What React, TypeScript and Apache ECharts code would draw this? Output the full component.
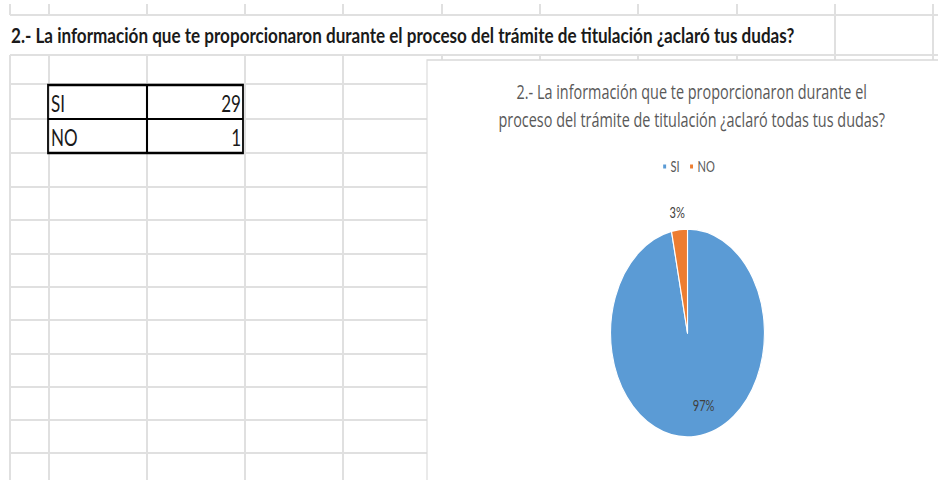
import React, { useEffect, useRef } from 'react';
import * as echarts from 'echarts';

// ---- data ----
const categories = ['SI', 'NO'];
const counts = [29, 1];
const sliceColors = ['#5B9BD5', '#ED7D31'];
const sheetTitle =
  '2.- La información que te proporcionaron durante el proceso del trámite de titulación ¿aclaró tus dudas?';
const chartTitleLines = [
  '2.- La información que te proporcionaron durante el',
  'proceso del trámite de titulación ¿aclaró todas tus dudas?',
];

// spreadsheet grid (screen px)
const colLines = [10, 49, 147, 245, 343, 442, 540, 638, 737, 835, 933];
const rowLines = [15, 55, 84, 119, 153, 187, 220, 254, 287, 320, 354, 387, 420, 453];

// the screenshot is horizontally condensed; draw wide, then squeeze
const SX = 0.74;
const W = 938;
const H = 480;
const WW = Math.round(W / SX);
const X = (x: number) => x / SX;

const FONT = 'Lato';

function buildGraphic() {
  const els: any[] = [];
  els.push({ type: 'rect', z: -20, shape: { x: 0, y: 0, width: WW, height: H }, style: { fill: '#fff' } });
  const gridStyle = { stroke: '#e0e0e0', lineWidth: 2 };
  rowLines.forEach((y) => {
    els.push({ type: 'line', z: -10, shape: { x1: X(10), y1: y, x2: WW, y2: y }, style: gridStyle });
  });
  colLines.forEach((x) => {
    if (x < 810) {
      els.push({ type: 'line', z: -10, shape: { x1: X(x), y1: 4, x2: X(x), y2: 15 }, style: { ...gridStyle, lineWidth: 2.7 } });
      els.push({ type: 'line', z: -10, shape: { x1: X(x), y1: 55, x2: X(x), y2: H }, style: { ...gridStyle, lineWidth: 2.7 } });
    } else {
      els.push({ type: 'line', z: -10, shape: { x1: X(x), y1: 4, x2: X(x), y2: H }, style: { ...gridStyle, lineWidth: 2.7 } });
    }
  });
  // sheet title
  els.push({
    type: 'text', z: -5, x: X(11), y: 35, scaleX: 1.1,
    style: { text: sheetTitle, fontFamily: FONT, fontWeight: 'bold', fontSize: 21, fill: '#1a1a1a', verticalAlign: 'middle', align: 'left' },
  });
  // data table
  const tx0 = 48, tx1 = 147, tx2 = 243, ty0 = 85, rowH = 34;
  categories.forEach((c, i) => {
    const yc = ty0 + rowH * i + rowH / 2 + 1;
    els.push({ type: 'text', z: -4, x: X(51), y: yc, style: { text: c, fontFamily: FONT, fontSize: 23, fill: '#1a1a1a', align: 'left', verticalAlign: 'middle' } });
    els.push({ type: 'text', z: -4, x: X(241), y: yc, style: { text: String(counts[i]), fontFamily: FONT, fontSize: 23, fill: '#1a1a1a', align: 'right', verticalAlign: 'middle' } });
    if (i > 0) {
      els.push({ type: 'line', z: -3, shape: { x1: X(tx0), y1: ty0 + rowH * i, x2: X(tx2), y2: ty0 + rowH * i }, style: { stroke: '#000', lineWidth: 2.2 } });
    }
  });
  const tBottom = ty0 + rowH * categories.length;
  els.push({ type: 'line', z: -3, shape: { x1: X(tx1), y1: ty0, x2: X(tx1), y2: tBottom }, style: { stroke: '#000', lineWidth: 2.8 } });
  els.push({ type: 'rect', z: -3, shape: { x: X(tx0), y: ty0, width: X(tx2) - X(tx0), height: tBottom - ty0 }, style: { fill: 'none', stroke: '#000', lineWidth: 2.4 } });
  // chart area
  els.push({ type: 'rect', z: -2, shape: { x: X(427), y: 60, width: WW, height: H }, style: { fill: '#fff', stroke: '#d9d9d9', lineWidth: 1.5 } });
  return els;
}

export default function App() {
  const ref = useRef<HTMLDivElement>(null);
  useEffect(() => {
    if (!ref.current) return;
    const chart = echarts.init(ref.current, null, { renderer: 'svg' });
    chart.setOption({
      animation: false,
      backgroundColor: '#fff',
      textStyle: { fontFamily: FONT },
      color: sliceColors,
      graphic: buildGraphic(),
      title: {
        text: chartTitleLines.join('\n'),
        left: X(688),
        top: 72,
        textAlign: 'center',
        textStyle: { fontFamily: 'Open Sans', fontSize: 19.5, fontWeight: 'normal', color: '#595959', lineHeight: 28.5 },
      },
      legend: {
        data: categories,
        left: X(658),
        top: 154,
        icon: 'rect',
        itemWidth: 6,
        itemHeight: 6,
        itemGap: 12,
        textStyle: { fontFamily: FONT, fontSize: 15, color: '#595959' },
      },
      series: [
        {
          type: 'pie',
          center: [X(687.5), 333],
          radius: 104,
          startAngle: 90,
          clockwise: true,
          avoidLabelOverlap: false,
          percentPrecision: 0,
          itemStyle: { borderColor: '#fff', borderWidth: 1.5 },
          label: { show: true, formatter: '{d}%', fontFamily: FONT, fontSize: 15, color: '#404040' },
          labelLine: { show: false, length: 17, length2: 0 },
          labelLayout: (p: any) => (p.dataIndex === 0 ? { dx: 16, dy: 18 } : { dx: 14 }),
          emphasis: { disabled: true },
          data: categories.map((c, i) => ({
            name: c,
            value: counts[i],
            label: { position: i === 0 ? 'inside' : 'outside' },
          })),
        },
      ],
    });
    return () => chart.dispose();
  }, []);
  return (
    <div style={{ position: 'absolute', left: 0, top: 0, width: W, height: H, overflow: 'hidden', background: '#fff' }}>
      <div ref={ref} style={{ width: WW, height: H, transform: `scaleX(${SX})`, transformOrigin: '0 0' }} />
    </div>
  );
}
